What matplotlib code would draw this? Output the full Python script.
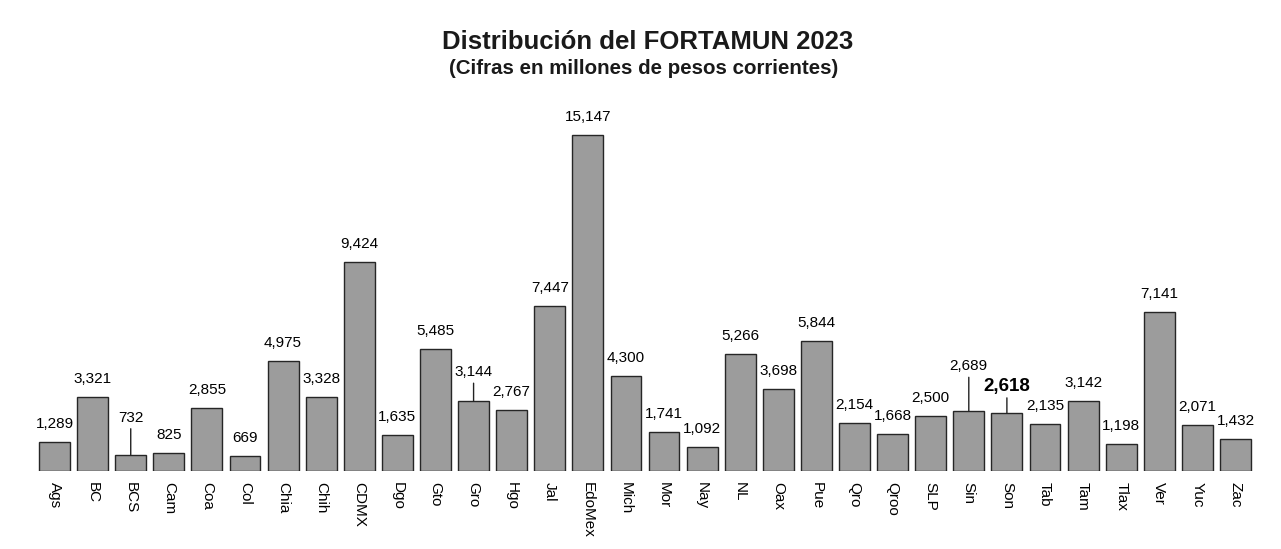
import numpy as np
import matplotlib.pyplot as plt

plt.rcParams['font.family'] = ['Liberation Sans', 'DejaVu Sans']

estados = ["Ags", "BC", "BCS", "Cam", "Coa", "Col", "Chia", "Chih", "CDMX", "Dgo",
           "Gto", "Gro", "Hgo", "Jal", "EdoMex", "Mich", "Mor", "Nay", "NL", "Oax",
           "Pue", "Qro", "Qroo", "SLP", "Sin", "Son", "Tab", "Tam", "Tlax", "Ver",
           "Yuc", "Zac"]
valores = [1289, 3321, 732, 825, 2855, 669, 4975, 3328, 9424, 1635,
           5485, 3144, 2767, 7447, 15147, 4300, 1741, 1092, 5266, 3698,
           5844, 2154, 1668, 2500, 2689, 2618, 2135, 3142, 1198, 7141,
           2071, 1432]

titulo = "Distribución del FORTAMUN 2023"
subtitulo = "(Cifras en millones de pesos corrientes)"

# etiquetas levantadas con linea guia (px sobre la barra)
guias = {"BCS": 33, "Gro": 25, "Sin": 41, "Son": 22}
destacado = "Son"

fig = plt.figure(figsize=(12.81, 5.49), dpi=100)
ax = fig.add_axes([35.5 / 1281, 78 / 549, 1219 / 1281, 371 / 549])

x = np.arange(len(estados))
ax.bar(x, valores, width=0.81, color='#9c9c9c', edgecolor='#262626', linewidth=1)

px = 0.72  # puntos por pixel
for i, (e, v) in enumerate(zip(estados, valores)):
    txt = f"{v:,}"
    if e in guias:
        off = guias[e]
        ax.annotate("", xy=(i, v), xytext=(0, (off - 7) * px), textcoords='offset points',
                    arrowprops=dict(arrowstyle='-', color='#222222', lw=1,
                                    shrinkA=0, shrinkB=0))
    else:
        off = 14
    if e == destacado:
        ax.annotate(txt, xy=(i, v), xytext=(0, off * px), textcoords='offset points',
                    ha='center', va='baseline', fontsize=13.5, fontweight='bold')
    else:
        ax.annotate(txt, xy=(i, v), xytext=(0, off * px), textcoords='offset points',
                    ha='center', va='baseline', fontsize=11)

ax.set_xlim(-0.5, len(estados) - 0.5)
ax.set_ylim(0, 16712)
ax.set_xticks(x)
ax.set_xticklabels(estados, rotation=270, fontsize=11)
ax.tick_params(axis='x', length=0, pad=8)
ax.set_yticks([])
for s in ax.spines.values():
    s.set_visible(False)

fig.text(648 / 1281, 1 - 42 / 549, titulo, ha='center', va='center', fontsize=18.5,
         fontweight='bold', color='#1a1a1a')
fig.text(644 / 1281, 1 - 68 / 549, subtitulo, ha='center', va='center', fontsize=14.8,
         fontweight='bold', color='#1a1a1a')

fig.savefig("out.png", dpi=100)
